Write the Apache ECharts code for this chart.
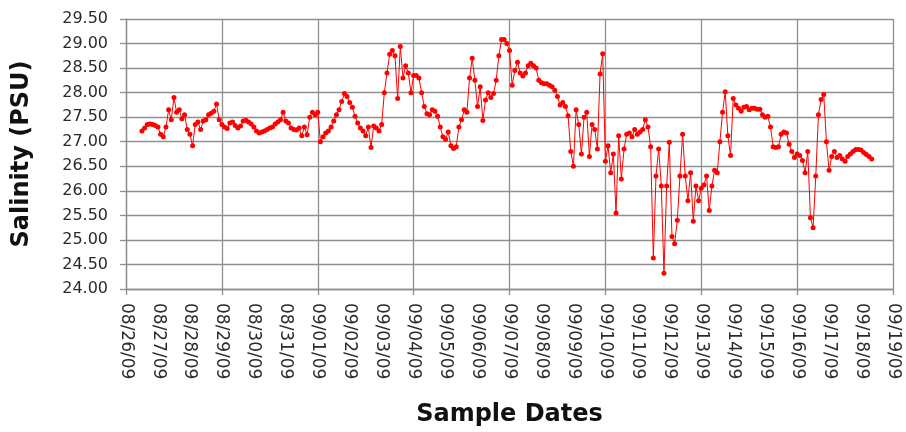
<!DOCTYPE html>
<html>
<head>
<meta charset="utf-8">
<script src="https://cdn.jsdelivr.net/npm/echarts@6/dist/echarts.min.js"></script>
<style>
  html, body { margin: 0; padding: 0; background: #ffffff; }
  #chart { width: 906px; height: 432px; }
</style>
</head>
<body>
<div id="chart"></div>
<script>
// Salinity record, one reading every 2 hours, first reading 08/26/09 12:00.
const firstReadingDay = 0.5;          // days after 08/26/09 00:00
const readingStepDays = 2 / 24;       // 2-hour sampling

const salinityAug26to31 = [
  27.22, 27.28, 27.35, 27.36, 27.35, 27.33,
  27.30, 27.15, 27.10, 27.30, 27.65, 27.45, 27.90, 27.60, 27.65, 27.47, 27.55, 27.25,
  27.15, 26.92, 27.35, 27.40, 27.25, 27.42, 27.45, 27.55, 27.58, 27.62, 27.77, 27.45,
  27.35, 27.30, 27.27, 27.38, 27.40, 27.33, 27.28, 27.32, 27.42, 27.44, 27.40, 27.36,
  27.30, 27.22, 27.18, 27.20, 27.22, 27.25, 27.28, 27.30, 27.36, 27.40, 27.45, 27.60,
  27.42, 27.38, 27.28, 27.25, 27.24, 27.28, 27.12, 27.30, 27.14, 27.50, 27.60, 27.55
];
const salinitySep01to06 = [
  27.60, 27.00, 27.10, 27.18, 27.22, 27.30, 27.42, 27.55, 27.65, 27.82, 27.98, 27.92,
  27.80, 27.70, 27.52, 27.38, 27.28, 27.22, 27.12, 27.30, 26.88, 27.32, 27.28, 27.22,
  27.35, 28.00, 28.40, 28.78, 28.86, 28.75, 27.88, 28.94, 28.30, 28.55, 28.40, 28.00,
  28.35, 28.35, 28.30, 28.00, 27.72, 27.57, 27.55, 27.65, 27.62, 27.52, 27.30, 27.10,
  27.05, 27.20, 26.92, 26.86, 26.90, 27.30, 27.45, 27.65, 27.60, 28.30, 28.70, 28.25,
  27.72, 28.12, 27.43, 27.85, 28.00, 27.90, 27.98, 28.25, 28.75, 29.08, 29.08, 29.00
];
const salinitySep07to12 = [
  28.86, 28.15, 28.45, 28.62, 28.40, 28.34, 28.40, 28.55, 28.60, 28.55, 28.50, 28.25,
  28.20, 28.18, 28.18, 28.15, 28.12, 28.05, 27.92, 27.75, 27.80, 27.72, 27.53, 26.80,
  26.50, 27.65, 27.35, 26.75, 27.50, 27.60, 26.70, 27.35, 27.25, 26.85, 28.38, 28.79,
  26.60, 26.92, 26.37, 26.75, 25.55, 27.12, 26.24, 26.85, 27.15, 27.18, 27.10, 27.25,
  27.15, 27.20, 27.25, 27.45, 27.30, 26.90, 24.63, 26.30, 26.85, 26.10, 24.32, 26.10,
  26.99, 25.07, 24.92, 25.40, 26.30, 27.15, 26.30, 25.80, 26.37, 25.38, 26.10, 25.80
];
const salinitySep13to18 = [
  26.05, 26.12, 26.30, 25.60, 26.10, 26.42, 26.37, 27.00, 27.60, 28.02, 27.12, 26.72,
  27.88, 27.75, 27.68, 27.62, 27.70, 27.72, 27.65, 27.68, 27.68, 27.66, 27.66, 27.55,
  27.50, 27.52, 27.30, 26.90, 26.88, 26.90, 27.15, 27.20, 27.18, 26.95, 26.80, 26.68,
  26.75, 26.72, 26.62, 26.37, 26.80, 25.45, 25.25, 26.30, 27.55, 27.86, 27.96, 27.00,
  26.42, 26.70, 26.80, 26.68, 26.72, 26.65, 26.60, 26.70, 26.75, 26.80, 26.84, 26.84,
  26.83, 26.78, 26.74, 26.70, 26.65
];

// Axis ranges and ticks
const axisStartUTC = Date.UTC(2009, 7, 26);   // 08/26/09
const dayCount = 24;                           // through 09/19/09
const yMin = 24.0, yMax = 29.5, yStep = 0.5;

const salinity = [].concat(salinityAug26to31, salinitySep01to06, salinitySep07to12, salinitySep13to18);
const seriesData = salinity.map((v, i) => [firstReadingDay + i * readingStepDays, v]);

function dayLabel(d) {
  const dt = new Date(axisStartUTC + Math.round(d) * 86400000);
  const mm = String(dt.getUTCMonth() + 1).padStart(2, '0');
  const dd = String(dt.getUTCDate()).padStart(2, '0');
  const yy = String(dt.getUTCFullYear() % 100).padStart(2, '0');
  return mm + '/' + dd + '/' + yy;
}

const gridColor = '#8f8f8f';
const gridWidth = 1.3;

const chart = echarts.init(document.getElementById('chart'), null, { renderer: 'canvas' });
chart.setOption({
  animation: false,
  backgroundColor: '#ffffff',
  grid: { left: 126, right: 13, top: 19, bottom: 143, containLabel: false },
  xAxis: [
    {
      // daily date labels
      type: 'value', position: 'bottom', min: 0, max: dayCount, interval: 1,
      name: 'Sample Dates', nameLocation: 'middle', nameGap: 114,
      nameTextStyle: { fontFamily: 'DejaVu Sans', fontWeight: 'bold', fontSize: 24, color: '#111111' },
      axisLine: { show: true, lineStyle: { color: gridColor, width: gridWidth } },
      axisTick: { show: false },
      splitLine: { show: false },
      axisLabel: {
        rotate: -90, margin: 14, formatter: dayLabel, showMinLabel: true, showMaxLabel: true,
        fontFamily: 'DejaVu Sans', fontSize: 17, color: '#2a2a2a'
      }
    },
    {
      // gridlines and ticks every third day
      type: 'value', position: 'bottom', min: 0, max: dayCount, interval: 3,
      axisLine: { show: false },
      axisTick: { show: true, inside: false, length: 6, lineStyle: { color: gridColor, width: gridWidth } },
      axisLabel: { show: false },
      splitLine: { show: true, lineStyle: { color: gridColor, width: gridWidth } }
    }
  ],
  yAxis: {
    type: 'value', min: yMin, max: yMax, interval: yStep,
    name: 'Salinity (PSU)', nameLocation: 'middle', nameGap: 92,
    nameTextStyle: { fontFamily: 'DejaVu Sans', fontWeight: 'bold', fontSize: 24, color: '#111111' },
    axisLine: { show: true, lineStyle: { color: gridColor, width: gridWidth } },
    axisTick: { show: true, inside: false, length: 6, lineStyle: { color: gridColor, width: gridWidth } },
    splitLine: { show: true, lineStyle: { color: gridColor, width: gridWidth } },
    axisLabel: {
      margin: 18, formatter: v => v.toFixed(2),
      fontFamily: 'DejaVu Sans', fontSize: 16, color: '#2a2a2a'
    }
  },
  series: [{
    name: 'Salinity',
    type: 'line',
    xAxisIndex: 0,
    data: seriesData,
    showSymbol: true,
    showAllSymbol: true,
    symbol: 'circle',
    symbolSize: 5,
    itemStyle: { color: '#ff0000' },
    lineStyle: { color: '#ff0000', width: 1 },
    z: 3
  }]
});
</script>
</body>
</html>
